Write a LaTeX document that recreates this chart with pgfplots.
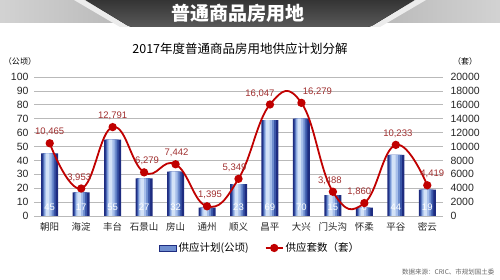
\documentclass[border=0pt]{standalone}
\usepackage{pgfplots}
\usepackage{pgfplotstable}
\pgfplotsset{compat=1.18}
\usepackage{fontspec}
\setmainfont{Noto Sans CJK SC}
\newfontfamily\num{Liberation Sans}
\definecolor{navy}{HTML}{1E2C80}
\definecolor{b1}{HTML}{3A56A8}
\definecolor{b2}{HTML}{6F8ECF}
\definecolor{b3}{HTML}{A6BEEA}
\definecolor{b4}{HTML}{D3E2F7}
\definecolor{lred}{HTML}{C00000}
\definecolor{lblred}{HTML}{A03030}
\pgfplotstableread{
x y
0 45
1 17
2 55
3 27
4 32
5 6
6 23
7 69
8 70
9 15
10 6
11 44
12 19
}\bars
\pgfplotstableread{
x y lab dx
0 10465 10,465 0
1 3953 3,953 -2
2 12791 12,791 0
3 6279 6,279 3
4 7442 7,442 1
5 1395 1,395 3
6 5349 5,349 -4
7 16047 16,047 -10
8 16279 16,279 16
9 3488 3,488 -3
10 1860 1,860 -5
11 10233 10,233 2
12 4419 4,419 5
}\units
\begin{document}
\begin{tikzpicture}
\path[use as bounding box] (0,0) rectangle (500pt,280pt);
% banner
\fill[left color=gray!35, right color=gray!75] (0,280pt) rectangle (250pt,257pt);
\fill[left color=gray!75, right color=gray!35] (250pt,280pt) rectangle (500pt,257pt);
\fill[white!85!gray] (74pt,280pt) -- (84pt,280pt) -- (130pt,253pt) -- (120pt,253pt) -- cycle;
\fill[white!85!gray] (426pt,280pt) -- (416pt,280pt) -- (370pt,253pt) -- (380pt,253pt) -- cycle;
\fill[top color=black!80, bottom color=black!65, rounded corners=3pt] (84pt,281pt) -- (416pt,281pt) -- (370pt,253pt) -- (130pt,253pt) -- cycle;
\node[white, font=\fontsize{19}{19}\selectfont\bfseries] at (238pt,267pt) {普通商品房用地};
% titles
\node[font=\fontsize{12.5}{13}\selectfont] at (240pt,231pt) {2017年度普通商品房用地供应计划分解};
\node[font=\fontsize{8}{9}\selectfont] at (20pt,219pt) {（公顷）};
\node[font=\fontsize{8}{9}\selectfont] at (465pt,219pt) {（套）};
\node[anchor=east, text=gray!80!black, font=\fontsize{6.5}{7}\selectfont] at (498pt,8pt) {数据来源：CRIC、市规划国土委};

\begin{axis}[at={(34pt,64pt)}, anchor=south west, scale only axis,
  width=409pt, height=139pt,
  xmin=-0.5, xmax=12.5, ymin=0, ymax=100,
  ytick={0,10,...,100}, xtick={0,...,12},
  xticklabels={朝阳,海淀,丰台,石景山,房山,通州,顺义,昌平,大兴,门头沟,怀柔,平谷,密云},
  axis line style={draw=none}, major tick length=0pt,
  ymajorgrids, grid style={gray!55, line width=0.6pt},
  /pgf/number format/assume math mode=true,
  yticklabel style={font=\num\fontsize{10.5}{10}\selectfont, text=black!85, xshift=-2pt},
  xticklabel style={font=\fontsize{9.5}{10}\selectfont, text=black!85, yshift=-3pt},
]
\addplot[ybar, bar width=17pt, bar shift=0pt, draw=none, fill=navy] table[x=x,y=y] {\bars};
\addplot[ybar, bar width=13pt, bar shift=-0.5pt, draw=none, fill=b1] table[x=x,y=y] {\bars};
\addplot[ybar, bar width=10pt, bar shift=-1pt, draw=none, fill=b2] table[x=x,y=y] {\bars};
\addplot[ybar, bar width=7pt, bar shift=-1.5pt, draw=none, fill=b3] table[x=x,y=y] {\bars};
\addplot[ybar, bar width=3.5pt, bar shift=-2pt, draw=none, fill=b4] table[x=x,y=y] {\bars};
\addplot[draw=none, nodes near coords, point meta=explicit symbolic,
  nodes near coords style={anchor=center, text=white, font=\num\fontsize{9.5}{10}\selectfont}] coordinates {
 (0,6.5)[45] (1,6.5)[17] (2,6.5)[55] (3,6.5)[27] (4,6.5)[32] (5,6.5)[6] (6,6.5)[23] (7,6.5)[69] (8,6.5)[70] (9,6.5)[15] (10,6.5)[6] (11,6.5)[44] (12,6.5)[19]};
\end{axis}

\begin{axis}[at={(34pt,64pt)}, anchor=south west, scale only axis,
  width=409pt, height=139pt,
  xmin=-0.5, xmax=12.5, ymin=0, ymax=20000,
  ytick={0,2000,...,20000}, scaled y ticks=false,
  axis y line*=right, axis x line=none,
  axis line style={draw=none}, major tick length=0pt,
  /pgf/number format/assume math mode=true,
  yticklabel style={font=\num\fontsize{10.5}{10}\selectfont, text=black!85, /pgf/number format/1000 sep={}, xshift=4pt},
  legend style={at={(0.553,-0.23)}, anchor=center, draw=none, fill=none,
    legend columns=2, font=\fontsize{10.5}{11}\selectfont,
    /tikz/every even column/.append style={column sep=14pt}},
]
\addlegendimage{area legend, draw=navy, fill=b2}
\addlegendentry{供应计划(公顷)}
\addplot[lred, line width=1.8pt, smooth, tension=0.75, mark=*, mark size=3.2pt,
  mark options={fill=lred, draw=lred},
  visualization depends on={\thisrow{dx} \as \dx},
  nodes near coords, point meta=explicit symbolic,
  nodes near coords style={anchor=south, text=lblred, yshift=3pt, xshift=\dx pt, font=\num\fontsize{9.5}{10}\selectfont}]
  table[x=x, y=y, meta=lab] {\units};
\addlegendentry{供应套数（套）}
\end{axis}
\end{tikzpicture}
\end{document}
